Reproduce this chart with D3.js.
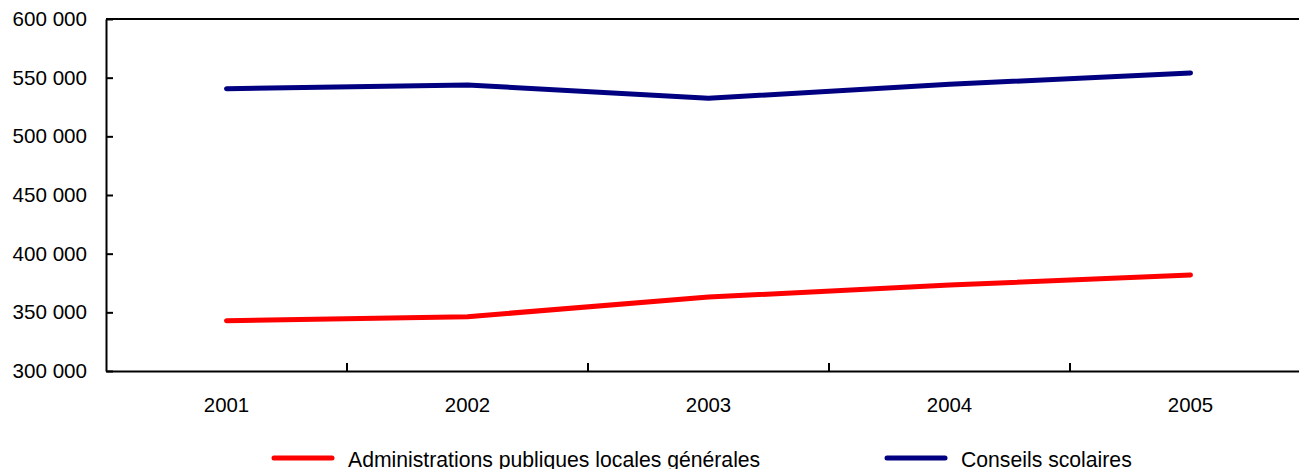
<!DOCTYPE html>
<html>
<head>
<meta charset="utf-8">
<script src="https://cdn.jsdelivr.net/npm/d3@7"></script>
<style>
  html, body { margin: 0; padding: 0; background: #fff; overflow: hidden; }
  svg { display: block; font-family: "Liberation Sans", Arial, sans-serif; }
</style>
</head>
<body>
<svg id="chart" width="1299" height="469"></svg>
<script>
const years = ["2001", "2002", "2003", "2004", "2005"];
const localGov = [342900, 346300, 363000, 373300, 381800];
const schoolBoards = [540600, 543750, 532400, 544300, 554000];
const seriesNames = ["Administrations publiques locales générales", "Conseils scolaires"];
const seriesColors = ["#ff0000", "#000080"];
const yTicks = [300000, 350000, 400000, 450000, 500000, 550000, 600000];

(function () {
const svg = d3.select("#chart");
const mLeft = 106, mTop = 19, mBottom = 371, bandW = 241;
const mRight = mLeft + bandW * years.length;

const x = d3.scaleBand().domain(years).range([mLeft, mRight]).paddingInner(0).paddingOuter(0);
const y = d3.scaleLinear().domain([300000, 600000]).range([mBottom, mTop]);

const loc = d3.formatLocale({ thousands: " ", grouping: [3], decimal: ",", currency: ["", ""] });
const fmt = loc.format(",");

// Top border
svg.append("line")
  .attr("x1", mLeft).attr("x2", mRight)
  .attr("y1", mTop).attr("y2", mTop)
  .attr("stroke", "#000").attr("stroke-width", 2);

// Y axis
const yAxis = svg.append("g")
  .attr("transform", `translate(${mLeft},0)`)
  .call(d3.axisLeft(y).tickValues(yTicks).tickFormat(fmt).tickSize(-7).tickSizeOuter(0).tickPadding(19));
yAxis.select(".domain").attr("stroke", "#000").attr("stroke-width", 2);
yAxis.selectAll(".tick line").attr("stroke", "#000").attr("stroke-width", 2);
yAxis.selectAll(".tick text").attr("font-size", 20.6).attr("fill", "#000")
  .attr("font-family", "Liberation Sans, Arial, sans-serif");

// X axis (labels at band centers)
const xAxis = svg.append("g")
  .attr("transform", `translate(0,${mBottom})`)
  .call(d3.axisBottom(x).tickSize(0).tickSizeOuter(0).tickPadding(27));
xAxis.select(".domain").attr("stroke", "#000").attr("stroke-width", 2);
xAxis.selectAll(".tick text").attr("font-size", 20.4).attr("fill", "#000")
  .attr("font-family", "Liberation Sans, Arial, sans-serif");

// X tick marks at band boundaries
svg.append("g").selectAll("line")
  .data(years.slice(1))
  .join("line")
  .attr("x1", d => x(d)).attr("x2", d => x(d))
  .attr("y1", mBottom).attr("y2", mBottom - 8)
  .attr("stroke", "#000").attr("stroke-width", 2);

// Lines
const line = d3.line()
  .x((d, i) => x(years[i]) + x.bandwidth() / 2)
  .y(d => y(d));

[localGov, schoolBoards].forEach((s, k) => {
  svg.append("path")
    .datum(s)
    .attr("d", line)
    .attr("fill", "none")
    .attr("stroke", seriesColors[k])
    .attr("stroke-width", 5)
    .attr("stroke-linecap", "round")
    .attr("stroke-linejoin", "round");
});

// Legend
const legendX = [274, 887];
const legY = 458;
seriesNames.forEach((name, k) => {
  const g = svg.append("g").attr("transform", `translate(${legendX[k]},${legY})`);
  g.append("line")
    .attr("x1", 0).attr("x2", 58).attr("y1", 0).attr("y2", 0)
    .attr("stroke", seriesColors[k]).attr("stroke-width", 5).attr("stroke-linecap", "round");
  g.append("text")
    .attr("x", 74).attr("y", 9)
    .attr("font-size", 21.2).attr("fill", "#000")
    .text(name);
});
})();
</script>
</body>
</html>
